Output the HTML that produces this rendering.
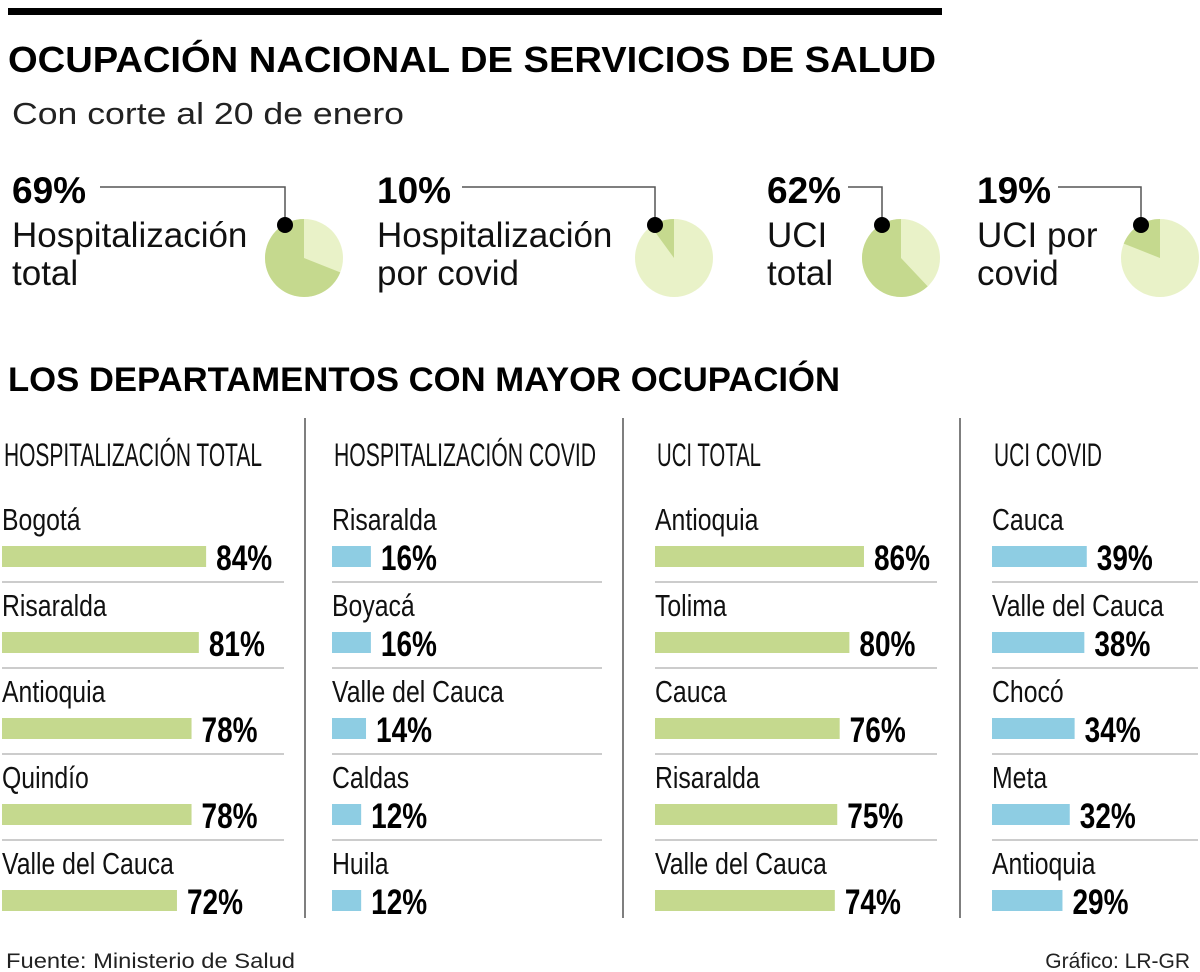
<!DOCTYPE html>
<html><head><meta charset="utf-8"><style>
body{margin:0;background:#fff}
svg{display:block}
.t{font-family:"Liberation Sans",sans-serif}
</style></head><body>
<svg id="c" width="1200" height="972" viewBox="0 0 1200 972" xmlns="http://www.w3.org/2000/svg">
<rect x="8" y="8" width="934" height="7" fill="#000"/>
<text class="t" x="8" y="72" font-size="36" font-weight="bold" textLength="928" lengthAdjust="spacingAndGlyphs">OCUPACIÓN NACIONAL DE SERVICIOS DE SALUD</text>
<text class="t" x="12" y="124" font-size="31" fill="#222" textLength="392" lengthAdjust="spacingAndGlyphs">Con corte al 20 de enero</text>
<g id="pies"></g>
<text class="t" x="8" y="391" font-size="34" font-weight="bold" textLength="832" lengthAdjust="spacingAndGlyphs">LOS DEPARTAMENTOS CON MAYOR OCUPACIÓN</text>
<g id="bars"></g>
<text class="t" x="6" y="968" font-size="21" fill="#222" textLength="289" lengthAdjust="spacingAndGlyphs">Fuente: Ministerio de Salud</text>
<text class="t" x="1190" y="968" font-size="21" fill="#222" text-anchor="end">Gráfico: LR-GR</text>
</svg>
<script>
const pieValues=[69,10,62,19];
const pieLabels1=["Hospitalización","Hospitalización","UCI","UCI por"];
const pieLabels2=["total","por covid","total","covid"];
const colTitles=["HOSPITALIZACIÓN TOTAL","HOSPITALIZACIÓN COVID","UCI TOTAL","UCI COVID"];
const deptsHT=["Bogotá","Risaralda","Antioquia","Quindío","Valle del Cauca"];
const valsHT=[84,81,78,78,72];
const deptsHC=["Risaralda","Boyacá","Valle del Cauca","Caldas","Huila"];
const valsHC=[16,16,14,12,12];
const deptsUT=["Antioquia","Tolima","Cauca","Risaralda","Valle del Cauca"];
const valsUT=[86,80,76,75,74];
const deptsUC=["Cauca","Valle del Cauca","Chocó","Meta","Antioquia"];
const valsUC=[39,38,34,32,29];

const NS="http://www.w3.org/2000/svg";
function mk(tag,attrs,parent,txt){const e=document.createElementNS(NS,tag);for(const k in attrs)e.setAttribute(k,attrs[k]);if(txt!==undefined)e.textContent=txt;parent.appendChild(e);return e;}
// pies
const pies=document.getElementById('pies');
const textX=[12,377,767,977], pieCX=[304,674,901,1160], lineStart=[100,462,848,1058], cy=258, R=39;
pieValues.forEach((v,i)=>{
  const g=mk('g',{},pies);
  
  
  const cx=pieCX[i];
  const c=mk('circle',{cx:cx,cy:cy,r:R,fill:'#e9f2c8'},g);
  
  
  const a=-v/100*2*Math.PI;
  const x1=cx+R*Math.sin(a), y1=cy-R*Math.cos(a);
  const large=v>50?1:0;
  const p=mk('path',{d:`M${cx},${cy} L${cx},${cy-R} A${R},${R} 0 ${large} 0 ${x1},${y1} Z`,fill:'#c5d98e'},g);
  
  
  const dx=cx-19, dy=225;
  const ln=mk('polyline',{points:`${lineStart[i]},187 ${dx},187 ${dx},${dy}`,fill:'none',stroke:'#555','stroke-width':1.5},g);
  
  
  const d=mk('circle',{cx:dx,cy:dy,r:8,fill:'#000'},g);
  
  
  const t0=mk('text',{class:'t',x:textX[i],y:203,'font-size':37,'font-weight':'bold'},g,v+'%');
  
  
  const t1=mk('text',{class:'t',x:textX[i],y:247,'font-size':35,fill:'#111'},g,pieLabels1[i]);
  
  
  const t2=mk('text',{class:'t',x:textX[i],y:285,'font-size':35,fill:'#111'},g,pieLabels2[i]);
  
  
});
// bars
const bars=document.getElementById('bars');
const cols=[[deptsHT,valsHT,'#c5d98e'],[deptsHC,valsHC,'#8ecde3'],[deptsUT,valsUT,'#c5d98e'],[deptsUC,valsUC,'#8ecde3']];
const colX=[2,332,655,992], colW=[282,270,282,206], titleW=[258,262,104,108], pxPer=2.43;
[305,623,960].forEach(x=>{const l=mk('line',{x1:x,y1:418,x2:x,y2:918,stroke:'#555','stroke-width':1.5},bars);
  
  });
cols.forEach((col,ci)=>{
  const g=mk('g',{},bars);
  
  
  const x0=colX[ci];
  const h=mk('text',{class:'t',x:x0+2,y:466,'font-size':32,fill:'#111',textLength:titleW[ci],lengthAdjust:'spacingAndGlyphs'},g,colTitles[ci]);
  
  
  col[0].forEach((name,ri)=>{
    const y=ri*86;
    const nt=mk('text',{class:'t',x:0,y:0,'font-size':31,fill:'#111',transform:`translate(${x0},${530+y}) scale(0.8,1)`},g,name);
    
    
    const w=col[1][ri]*pxPer;
    const r=mk('rect',{x:x0,y:546+y,width:w,height:21,fill:col[2]},g);
    
    
    const vt=mk('text',{class:'t',x:0,y:0,'font-size':35,'font-weight':'bold',transform:`translate(${x0+w+10},${570+y}) scale(0.8,1)`},g,col[1][ri]+'%');
    
    
    if(ri<4){const s=mk('line',{x1:x0,y1:582+y,x2:x0+colW[ci],y2:582+y,stroke:'#ccc','stroke-width':2},g);
      
      }
  });
});
</script>
</body></html>
